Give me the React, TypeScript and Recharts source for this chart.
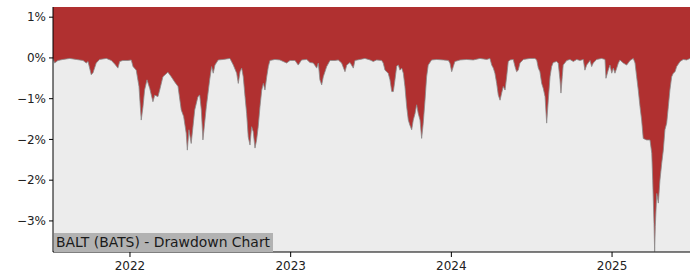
import { Area, AreaChart, CartesianGrid, XAxis, YAxis } from "recharts";

// decimal year of each observation
const t = [
  2021.521, 2021.531, 2021.552, 2021.583, 2021.625, 2021.666, 2021.708, 2021.728, 2021.739, 2021.759,
  2021.77, 2021.79, 2021.811, 2021.853, 2021.884, 2021.905, 2021.925, 2021.936, 2021.956, 2021.988,
  2022.008, 2022.019, 2022.039, 2022.056, 2022.07, 2022.081, 2022.091, 2022.106, 2022.123, 2022.143,
  2022.154, 2022.174, 2022.185, 2022.205, 2022.236, 2022.257, 2022.278, 2022.299, 2022.319, 2022.334,
  2022.35, 2022.357, 2022.367, 2022.381, 2022.403, 2022.423, 2022.434, 2022.444, 2022.454, 2022.475,
  2022.496, 2022.508, 2022.518, 2022.529, 2022.549, 2022.581, 2022.622, 2022.643, 2022.664, 2022.674,
  2022.685, 2022.695, 2022.705, 2022.716, 2022.726, 2022.736, 2022.747, 2022.757, 2022.767, 2022.778,
  2022.788, 2022.798, 2022.809, 2022.82, 2022.83, 2022.84, 2022.851, 2022.861, 2022.871, 2022.902,
  2022.933, 2022.954, 2022.975, 2022.996, 2023.027, 2023.047, 2023.068, 2023.1, 2023.12, 2023.141,
  2023.162, 2023.172, 2023.182, 2023.193, 2023.203, 2023.224, 2023.245, 2023.276, 2023.296, 2023.317,
  2023.338, 2023.349, 2023.369, 2023.39, 2023.4, 2023.431, 2023.462, 2023.494, 2023.514, 2023.535,
  2023.566, 2023.576, 2023.587, 2023.607, 2023.618, 2023.629, 2023.639, 2023.649, 2023.66, 2023.67,
  2023.68, 2023.691, 2023.701, 2023.711, 2023.722, 2023.732, 2023.742, 2023.753, 2023.763, 2023.774,
  2023.784, 2023.794, 2023.805, 2023.815, 2023.825, 2023.836, 2023.846, 2023.856, 2023.877, 2023.909,
  2023.95, 2023.981, 2023.991, 2024.002, 2024.012, 2024.022, 2024.054, 2024.095, 2024.136, 2024.178,
  2024.22, 2024.24, 2024.251, 2024.261, 2024.271, 2024.282, 2024.292, 2024.303, 2024.313, 2024.323,
  2024.334, 2024.344, 2024.354, 2024.365, 2024.385, 2024.396, 2024.406, 2024.416, 2024.427, 2024.448,
  2024.489, 2024.52, 2024.531, 2024.541, 2024.551, 2024.562, 2024.572, 2024.583, 2024.593, 2024.603,
  2024.614, 2024.624, 2024.634, 2024.655, 2024.665, 2024.676, 2024.682, 2024.69, 2024.696, 2024.718,
  2024.738, 2024.759, 2024.78, 2024.8, 2024.821, 2024.831, 2024.842, 2024.863, 2024.873, 2024.883,
  2024.904, 2024.935, 2024.956, 2024.962, 2024.976, 2024.987, 2024.998, 2025.008, 2025.018, 2025.029,
  2025.039, 2025.049, 2025.07, 2025.091, 2025.112, 2025.132, 2025.143, 2025.153, 2025.163, 2025.174,
  2025.184, 2025.194, 2025.215, 2025.236, 2025.247, 2025.253, 2025.261, 2025.265, 2025.269, 2025.278,
  2025.288, 2025.298, 2025.309, 2025.319, 2025.329, 2025.34, 2025.35, 2025.36, 2025.371, 2025.381,
  2025.392, 2025.402, 2025.423, 2025.443, 2025.464, 2025.485,
];

// drawdown in percent
const dd = [
  -0.01, -0.1, -0.05, -0.03, -0.01, -0.03, -0.05, -0.1, -0.07, -0.33,
  -0.29, -0.1, -0.03, -0.01, -0.05, -0.12, -0.2, -0.07, -0.05, -0.05,
  -0.04, -0.17, -0.24, -0.56, -1.22, -0.96, -0.63, -0.43, -0.6, -0.86,
  -0.73, -0.76, -0.63, -0.37, -0.28, -0.37, -0.47, -0.56, -1.02, -1.15,
  -1.48, -1.81, -1.41, -1.68, -1.02, -0.76, -0.73, -1.02, -1.61, -0.96,
  -0.43, -0.17, -0.3, -0.14, -0.04, -0.03, -0.01, -0.14, -0.3, -0.5,
  -0.27, -0.2, -0.37, -0.76, -1.09, -1.55, -1.71, -1.35, -1.45, -1.77,
  -1.61, -1.35, -0.96, -0.63, -0.5, -0.63, -0.37, -0.17, -0.05, -0.03,
  -0.04, -0.07, -0.1, -0.05, -0.05, -0.14, -0.04, -0.03, -0.09, -0.1,
  -0.2, -0.1, -0.43, -0.53, -0.37, -0.17, -0.05, -0.05, -0.04, -0.1,
  -0.27, -0.14, -0.09, -0.2, -0.05, -0.03, -0.01, -0.04, -0.07, -0.04,
  -0.05, -0.1, -0.24, -0.3, -0.43, -0.66, -0.66, -0.43, -0.16, -0.14,
  -0.24, -0.2, -0.3, -0.56, -0.96, -1.22, -1.32, -1.41, -1.22, -1.09,
  -0.92, -1.09, -1.22, -1.58, -1.28, -0.83, -0.37, -0.14, -0.04, -0.03,
  -0.04, -0.05, -0.1, -0.27, -0.17, -0.07, -0.04, -0.03, -0.04, -0.01,
  -0.03, -0.01, -0.14, -0.2, -0.3, -0.5, -0.73, -0.83, -0.69, -0.56,
  -0.63, -0.37, -0.07, -0.04, -0.03, -0.17, -0.27, -0.24, -0.1, -0.03,
  -0.01, -0.01, -0.04, -0.2, -0.27, -0.5, -0.6, -0.76, -1.28, -0.83,
  -0.37, -0.17, -0.09, -0.07, -0.1, -0.43, -0.69, -0.37, -0.14, -0.05,
  -0.03, -0.07, -0.03, -0.05, -0.03, -0.24, -0.14, -0.05, -0.17, -0.1,
  -0.03, -0.01, -0.03, -0.4, -0.24, -0.14, -0.3, -0.2, -0.3, -0.2,
  -0.1, -0.04, -0.1, -0.14, -0.05, -0.01, -0.1, -0.37, -0.63, -0.96,
  -1.22, -1.58, -1.61, -1.61, -1.87, -2.4, -3.25, -3.8, -3.31, -2.66,
  -2.85, -2.4, -2.07, -1.81, -1.41, -1.28, -0.96, -0.63, -0.37, -0.3,
  -0.27, -0.17, -0.07, -0.03, -0.04, -0.01,
];

const xTicks = [2022, 2023, 2024, 2025];
const yTicks = [0.8, 0, -0.8, -1.6, -2.4, -3.2];
const title = "BALT (BATS) - Drawdown Chart";

const xDomain = [2021.521, 2025.485];
const yDomain = [-3.81, 1.0];

const data = t.map((x, i) => ({ t: x, dd: dd[i] }));

const tickStyle = { fontSize: 12, fill: "#222", fontFamily: "DejaVu Sans" };
const fmtPct = (v: number) => `${Math.round(v)}%`.replace("-", "\u2212");

export default function App() {
  return (
    <div style={{ position: "absolute", left: 0, top: 0, width: 700, height: 280 }}>
      <AreaChart width={700} height={280} data={data} margin={{ top: 7, right: 10, bottom: 0, left: 0 }}>
        <CartesianGrid horizontal={false} vertical={false} fill="#ececec" />
        <XAxis
          dataKey="t"
          type="number"
          domain={xDomain}
          allowDataOverflow
          ticks={xTicks}
          tickFormatter={(v) => String(v)}
          tick={tickStyle}
          tickSize={5}
          tickMargin={4}
          height={28}
          stroke="#000"
          tickLine={{ stroke: "#000" }}
        />
        <XAxis xAxisId="top" orientation="top" type="number" domain={xDomain} height={0} tick={false} tickLine={false} stroke="#000" />
        <YAxis
          type="number"
          domain={yDomain}
          allowDataOverflow
          ticks={yTicks}
          tickFormatter={fmtPct}
          tick={tickStyle}
          tickSize={4}
          tickMargin={3}
          width={53}
          stroke="#000"
          tickLine={{ stroke: "#000" }}
        />
        <YAxis yAxisId="right" orientation="right" type="number" domain={yDomain} width={0} tick={false} tickLine={false} stroke="#000" />
        <Area
          type="linear"
          dataKey="dd"
          baseValue={yDomain[1]}
          fill="#b03030"
          fillOpacity={1}
          stroke="#8a8a8a"
          strokeWidth={0.8}
          dot={false}
          activeDot={false}
          isAnimationActive={false}
        />
      </AreaChart>
      <div
        style={{
          position: "absolute",
          left: 54,
          top: 233,
          width: 216,
          height: 19,
          paddingLeft: 2,
          paddingRight: 1,
          background: "#b2b2b2",
          fontFamily: "DejaVu Sans",
          fontSize: 13.9,
          lineHeight: "19px",
          color: "#1a1a1a",
          whiteSpace: "nowrap",
        }}
      >
        {title}
      </div>
    </div>
  );
}
